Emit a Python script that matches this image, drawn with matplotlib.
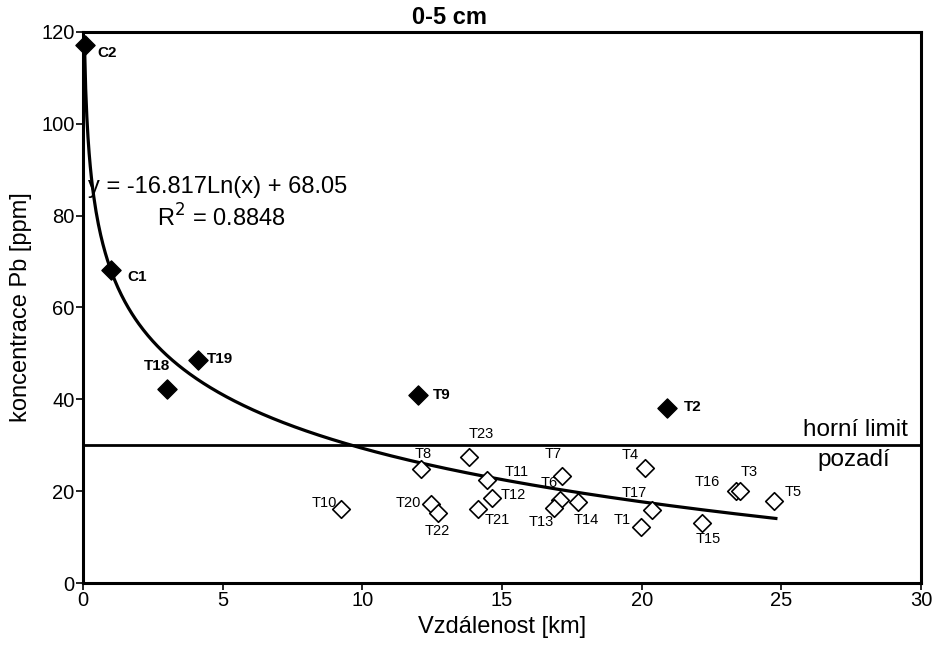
import numpy as np
import matplotlib
matplotlib.use("Agg")
import matplotlib.pyplot as plt

plt.rcParams['font.family'] = ['Liberation Sans', 'DejaVu Sans']

# ---- data ----
above_names = ["C2", "C1", "T18", "T19", "T9", "T2"]
above_x = [0.07, 1.0, 3.0, 4.1, 12.0, 20.9]
above_y = [117.2, 68.2, 42.3, 48.6, 41.0, 38.1]

below_names = ["T10", "T8", "T23", "T11", "T12", "T21", "T20", "T22", "T7", "T6",
               "T13", "T14", "T4", "T17", "T1", "T15", "T16", "T3", "T5"]
below_x = [9.23, 12.1, 13.8, 14.45, 14.65, 14.15, 12.46, 12.69, 17.16, 17.08,
           16.87, 17.70, 20.12, 20.38, 19.97, 22.15, 23.37, 23.52, 24.75]
below_y = [16.1, 24.8, 27.4, 22.4, 18.5, 16.1, 17.1, 15.3, 23.4, 18.1,
           16.3, 17.6, 25.0, 15.9, 12.1, 13.0, 20.0, 20.0, 17.9]

fit_a = -16.817
fit_b = 68.05
fit_r2 = 0.8848
fit_xmin, fit_xmax = 0.054, 24.8
background_limit = 30

x_ticks = [0, 5, 10, 15, 20, 25, 30]
y_ticks = [0, 20, 40, 60, 80, 100, 120]

# label offsets in pixels (dx, dy)
offsets = {
    "C2": (22, -8), "C1": (26, -7), "T18": (-10, 23), "T19": (22, 1),
    "T9": (23, 0), "T2": (26, 1),
    "T10": (-17, 6), "T8": (2, 15), "T23": (13, 23), "T11": (30, 8),
    "T12": (21, 3), "T21": (19, -11), "T20": (-23, 1), "T22": (0, -18),
    "T7": (-9, 22), "T6": (-11, 17), "T13": (-13, -14), "T14": (9, -18),
    "T4": (-15, 13), "T17": (-18, 17), "T1": (-19, 7), "T15": (6, -16),
    "T16": (-29, 9), "T3": (9, 19), "T5": (19, 9),
}

fig = plt.figure(figsize=(9.39, 6.48), dpi=100)
ax = fig.add_axes([0.0884, 0.1003, 0.8926, 0.8507])

xx = np.linspace(fit_xmin, fit_xmax, 600)
ax.plot(xx, fit_a * np.log(xx) + fit_b, color='black', lw=2.3, zorder=2)
ax.axhline(background_limit, color='black', lw=2.0, zorder=2)

ax.scatter(above_x, above_y, marker='D', s=95, color='black', zorder=4, clip_on=False)
ax.scatter(below_x, below_y, marker='D', s=80, facecolor='white', edgecolor='black',
           linewidths=1.2, zorder=4)

for n, x, y in zip(above_names, above_x, above_y):
    dx, dy = offsets[n]
    ax.annotate(n, (x, y), xytext=(dx, dy), textcoords='offset pixels',
                ha='center', va='center', fontsize=11, fontweight='bold', zorder=5)
for n, x, y in zip(below_names, below_x, below_y):
    dx, dy = offsets[n]
    ax.annotate(n, (x, y), xytext=(dx, dy), textcoords='offset pixels',
                ha='center', va='center', fontsize=10.5, zorder=5)

ax.text(0.18, 86.3, "y = %.3fLn(x) + %.2f" % (fit_a, fit_b), fontsize=17,
        ha='left', va='center', zorder=6)
ax.text(2.65, 79.5, "R$^2$ = %.4f" % fit_r2, fontsize=17, ha='left', va='center', zorder=6)

ax.text(29.54, 33.3, "horní limit", fontsize=17.5, ha='right', va='center')
ax.text(27.57, 26.8, "pozadí", fontsize=17.5, ha='center', va='center')

ax.set_xlim(0, 30)
ax.set_ylim(0, 120)
ax.set_xticks(x_ticks)
ax.set_yticks(y_ticks)
ax.tick_params(direction='out', length=5, width=1.2, labelsize=14.5, pad=1)
for s in ax.spines.values():
    s.set_linewidth(2.2)

ax.set_xlabel("Vzdálenost [km]", fontsize=17, labelpad=4)
ax.set_ylabel("koncentrace Pb [ppm]", fontsize=17, labelpad=7)
fig.text(450 / 939, 1 - 17 / 648, "0-5 cm", fontsize=17, fontweight='bold',
         ha='center', va='center')

fig.savefig("out.png", dpi=100)
